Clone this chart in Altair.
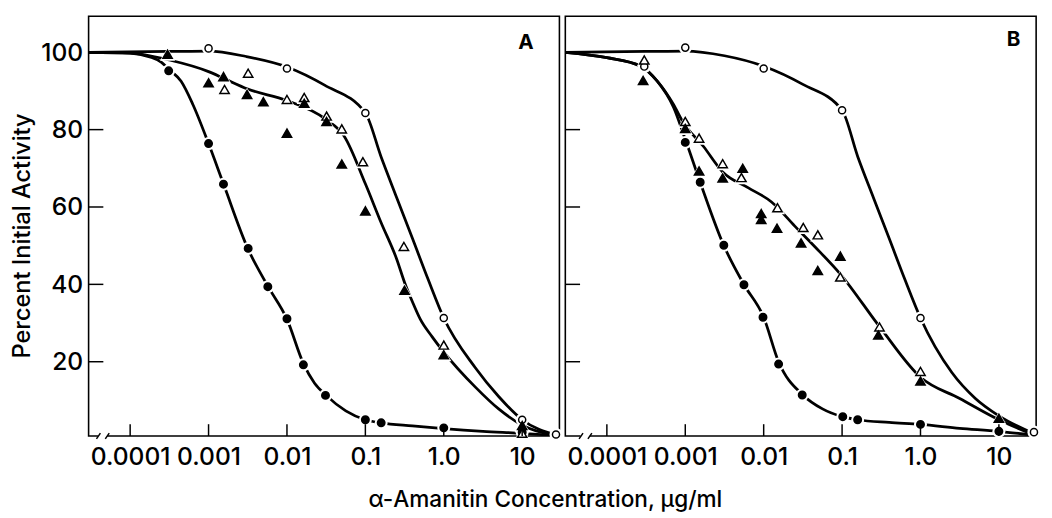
import math
import altair as alt
import pandas as pd

# ---------------- data ----------------
# Panel A markers
A_oc_x = [0.001, 0.01, 0.1, 1.0, 10, 27]
A_oc_y = [101.0, 95.8, 84.3, 31.3, 5.0, 1.2]
A_fc_x = [0.00031, 0.001, 0.00155, 0.0032, 0.0057, 0.01, 0.0162, 0.031, 0.1, 0.159, 1.0, 10]
A_fc_y = [95.2, 76.4, 65.9, 49.3, 39.4, 31.1, 19.2, 11.3, 5.0, 4.2, 2.9, 1.8]
A_ft_x = [0.0003, 0.001, 0.00155, 0.0031, 0.005, 0.01, 0.0166, 0.032, 0.05, 0.1, 0.316, 1.0, 10]
A_ft_y = [99.5, 92.1, 93.7, 89.1, 87.2, 79.1, 86.8, 82.1, 71.1, 59.0, 38.5, 21.8, 3.5]
A_ot_x = [0.0016, 0.0032, 0.01, 0.0166, 0.032, 0.05, 0.093, 0.31, 1.0, 10]
A_ot_y = [90.4, 94.6, 87.8, 88.3, 83.5, 80.2, 71.7, 49.8, 24.3, 1.5]

# Panel A fitted curves (log10 concentration, percent)
A_oc_curve_l = [-4.53, -3.5, -3.0, -2.52, -2.0, -1.52, -1.0, -0.8, -0.6, -0.4, -0.2, 0.0, 0.4, 0.7, 1.0, 1.44]
A_oc_curve_v = [100.0, 100.2, 100.3, 98.9, 96.2, 91.5, 84.3, 73.0, 62.4, 51.9, 41.3, 31.3, 18.5, 11.0, 5.0, 1.0]
A_fc_curve_l = [-4.53, -4.0, -3.75, -3.6, -3.5, -3.35, -3.2, -3.0, -2.81, -2.5, -2.24, -2.0, -1.79, -1.65, -1.5,
                -1.25, -1.0, -0.8, -0.4, 0.0, 0.5, 1.0, 1.44]
A_fc_curve_v = [100.0, 99.8, 98.8, 97.4, 95.5, 92.5, 86.5, 76.4, 66.0, 49.3, 39.4, 31.0, 19.5, 14.5, 11.3,
                7.3, 5.0, 4.2, 3.4, 2.7, 2.0, 1.5, 0.9]
A_tr_curve_l = [-4.53, -4.0, -3.5, -3.0, -2.8, -2.5, -2.0, -1.5, -1.27, -1.0, -0.8, -0.6, -0.5, -0.4, -0.3,
                -0.15, 0.0, 0.4, 0.7, 1.0, 1.44]
A_tr_curve_v = [100.0, 99.8, 98.0, 95.0, 93.2, 90.5, 87.5, 82.6, 78.3, 66.0, 56.0, 46.5, 40.5, 35.5, 31.0,
                26.5, 22.5, 13.5, 7.8, 3.6, 0.9]

# Panel B markers
B_oc_x = [0.0003, 0.001, 0.01, 0.1, 1.0, 28]
B_oc_y = [96.3, 101.2, 95.8, 85.0, 31.3, 1.8]
B_fc_x = [0.001, 0.00155, 0.0031, 0.0056, 0.0098, 0.0155, 0.031, 0.102, 0.158, 1.0, 10]
B_fc_y = [76.7, 66.4, 50.1, 39.9, 31.5, 19.4, 11.4, 5.8, 5.0, 3.8, 2.0]
B_ft_x = [0.00029, 0.001, 0.0015, 0.003, 0.0054, 0.0093, 0.0093, 0.0148, 0.03, 0.049, 0.095, 0.29, 1.0, 10]
B_ft_y = [92.7, 80.3, 69.3, 67.5, 70.0, 58.3, 56.8, 54.5, 50.7, 43.6, 47.3, 26.9, 15.0, 5.4]
B_ot_x = [0.0003, 0.001, 0.0015, 0.003, 0.0052, 0.015, 0.032, 0.049, 0.095, 0.3, 1.0]
B_ot_y = [98.0, 82.1, 77.8, 71.2, 67.6, 59.8, 54.7, 52.8, 41.9, 29.0, 17.5]

# Panel B fitted curves
B_oc_curve_l = [-4.53, -3.5, -3.0, -2.5, -2.0, -1.5, -1.0, -0.8, -0.6, -0.4, -0.2, 0.0, 0.4, 0.7, 1.0, 1.47]
B_oc_curve_v = [100.0, 100.2, 100.3, 99.1, 96.4, 91.7, 85.0, 73.0, 62.4, 51.9, 41.3, 31.3, 17.2, 10.5, 6.0, 1.2]
B_fc_curve_l = [-4.53, -4.0, -3.57, -3.36, -3.15, -3.0, -2.81, -2.51, -2.25, -2.0, -1.81, -1.5, -1.25, -1.0,
                -0.8, -0.4, 0.0, 0.5, 1.0, 1.47]
B_fc_curve_v = [100.0, 98.6, 96.4, 92.6, 85.8, 77.5, 66.4, 50.1, 39.9, 31.5, 20.0, 11.4, 7.8, 5.8,
                5.0, 4.3, 3.8, 2.8, 2.0, 0.9]
B_tr_curve_l = [-4.53, -4.0, -3.57, -3.36, -3.15, -3.03, -2.77, -2.52, -2.2, -1.9, -1.6, -1.35, -1.02, -0.52,
                0.0, 0.5, 1.0, 1.47]
B_tr_curve_v = [100.0, 98.6, 96.4, 92.6, 86.5, 82.0, 75.7, 69.0, 65.0, 61.3, 55.0, 49.8, 42.6, 29.0,
                16.0, 10.5, 5.0, 0.9]

# axes
x_tick_values = [0.0001, 0.001, 0.01, 0.1, 1.0, 10]
x_tick_labels = ["0.0001", "0.001", "0.01", "0.1", "1.0", "10"]
y_tick_values = [20, 40, 60, 80, 100]
panel_labels = ["A", "B"]
y_title = "Percent Initial Activity"
x_title = "\u03b1-Amanitin Concentration, \u03bcg/ml"

# ---------------- chart ----------------
XMIN, XMAX = 10 ** -4.53, 10 ** 1.475
YMIN, YMAX = 0.8, 109.3
W, H = 479, 427
FONT = "Inter"
FW = 500

xscale = alt.Scale(type="log", domain=[XMIN, XMAX], nice=False)
yscale = alt.Scale(domain=[YMIN, YMAX], nice=False, zero=False)

label_expr = ""
for v, lab in zip(x_tick_values, x_tick_labels):
    label_expr += f"abs(log(datum.value)/log(10) - ({math.log10(v)})) < 0.01 ? '{lab}' : "
label_expr += "''"


def marker_df(oc_x, oc_y, fc_x, fc_y, ot_x, ot_y, ft_x, ft_y):
    rows = []
    for x, y in zip(oc_x, oc_y):
        rows.append(dict(x=x, y=y, shape="circle", fill="white", size=52, halo=175))
    for x, y in zip(fc_x, fc_y):
        rows.append(dict(x=x, y=y, shape="circle", fill="black", size=58, halo=175))
    for x, y in zip(ot_x, ot_y):
        rows.append(dict(x=x, y=y, shape="triangle-up", fill="white", size=90, halo=240))
    for x, y in zip(ft_x, ft_y):
        rows.append(dict(x=x, y=y, shape="triangle-up", fill="black", size=90, halo=240))
    return pd.DataFrame(rows)


def curve_df(curves):
    rows = []
    for name, ls, vs in curves:
        for l, v in zip(ls, vs):
            rows.append(dict(x=10 ** l, y=v, curve=name))
    return pd.DataFrame(rows)


def panel(mdf, cdf, label, first, brk):
    if first:
        yaxis = alt.Axis(values=y_tick_values, ticks=False, domain=False, grid=False,
                         labelFontSize=25, labelFont=FONT, labelFontWeight=FW, labelPadding=6,
                         labelColor="black",
                         title=y_title, titleFont=FONT, titleFontSize=24, titleFontWeight=FW,
                         titleColor="black", titleX=-67, titleY=223, titleBaseline="middle")
    else:
        yaxis = None
    xaxis = alt.Axis(values=x_tick_values, labelExpr=label_expr, ticks=False, domain=False, grid=False,
                     labelFontSize=25, labelFont=FONT, labelFontWeight=FW, labelPadding=9,
                     labelColor="black", labelFlush=False, labelOverlap=False, title=None)
    X = alt.X("x:Q", scale=xscale, axis=xaxis)
    Y = alt.Y("y:Q", scale=yscale, axis=yaxis)

    lines = alt.Chart(cdf).mark_line(interpolate="monotone", color="black", strokeWidth=2.8,
                                     clip=True).encode(x=X, y=Y, detail="curve:N")
    halos = alt.Chart(mdf).mark_point(filled=True, color="white", opacity=1).encode(
        x=X, y=Y, shape=alt.Shape("shape:N", scale=None), size=alt.Size("halo:Q", scale=None))
    marks = alt.Chart(mdf).mark_point(filled=True, stroke="black", strokeWidth=1.5, opacity=1).encode(
        x=X, y=Y, shape=alt.Shape("shape:N", scale=None), fill=alt.Fill("fill:N", scale=None),
        size=alt.Size("size:Q", scale=None))

    yt = alt.Chart(pd.DataFrame({"y": y_tick_values})).mark_rule(color="black", strokeWidth=1.5).encode(
        y=Y, x=alt.value(0), x2=alt.value(15))
    xt = alt.Chart(pd.DataFrame({"x": x_tick_values})).mark_rule(color="black", strokeWidth=1.5).encode(
        x=X, y=alt.value(H), y2=alt.value(H - 12))

    gap = alt.Chart(pd.DataFrame({"k": [0]})).mark_rect(color="white").encode(
        x=alt.value(brk + 1.5), x2=alt.value(brk + 11), y=alt.value(H - 3), y2=alt.value(H + 3))
    sl1 = alt.Chart(pd.DataFrame({"k": [0]})).mark_rule(color="black", strokeWidth=1.5).encode(
        x=alt.value(brk), x2=alt.value(brk + 4), y=alt.value(H + 3), y2=alt.value(H - 3))
    sl2 = alt.Chart(pd.DataFrame({"k": [0]})).mark_rule(color="black", strokeWidth=1.5).encode(
        x=alt.value(brk + 9), x2=alt.value(brk + 13), y=alt.value(H + 3), y2=alt.value(H - 3))

    lab = alt.Chart(pd.DataFrame({"t": [label]})).mark_text(
        font=FONT, fontSize=21, fontWeight="bold", color="black").encode(
        text="t:N", x=alt.value(W - 34 if first else W - 23), y=alt.value(27 if first else 24))

    return alt.layer(lines, halos, marks, yt, xt, gap, sl1, sl2, lab).properties(width=W, height=H)


mA = marker_df(A_oc_x, A_oc_y, A_fc_x, A_fc_y, A_ot_x, A_ot_y, A_ft_x, A_ft_y)
cA = curve_df([("oc", A_oc_curve_l, A_oc_curve_v), ("fc", A_fc_curve_l, A_fc_curve_v),
               ("tr", A_tr_curve_l, A_tr_curve_v)])
mB = marker_df(B_oc_x, B_oc_y, B_fc_x, B_fc_y, B_ot_x, B_ot_y, B_ft_x, B_ft_y)
cB = curve_df([("oc", B_oc_curve_l, B_oc_curve_v), ("fc", B_fc_curve_l, B_fc_curve_v),
               ("tr", B_tr_curve_l, B_tr_curve_v)])

pA = panel(mA, cA, panel_labels[0], True, 8)
pB = panel(mB, cB, panel_labels[1], False, 14)

chart = alt.hconcat(pA, pB, spacing=0).resolve_scale(x="independent", y="independent").properties(
    title=alt.TitleParams(text=x_title, orient="bottom", anchor="middle", font=FONT, fontSize=23,
                          fontWeight=FW, color="black", offset=19, dx=20),
    padding={"left": 2, "top": 3, "right": 2, "bottom": 2},
    background="white",
).configure_view(stroke="black", strokeWidth=1.6)

chart.save("out.html", embed_options={"renderer": "svg", "actions": False})
